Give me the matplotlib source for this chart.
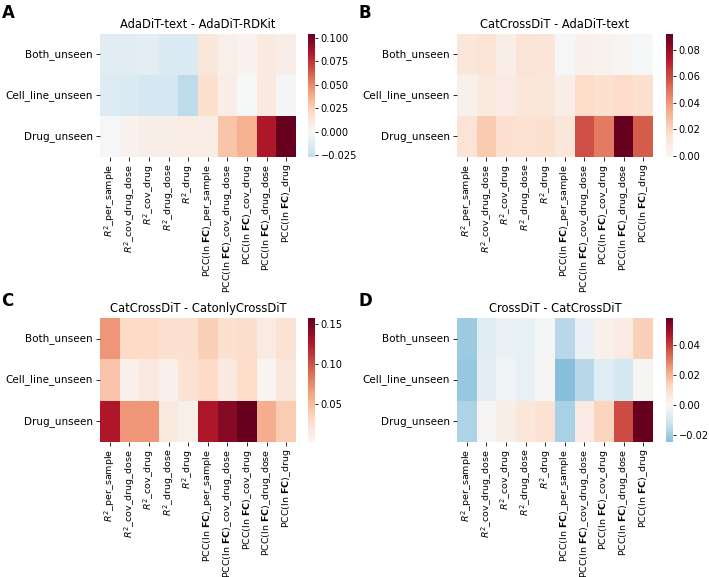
import numpy as np
import pandas as pd
import matplotlib
matplotlib.use("Agg")
import matplotlib.pyplot as plt
from matplotlib.ticker import MultipleLocator
import seaborn as sns

# Row / column labels
rows = ["Both_unseen", "Cell_line_unseen", "Drug_unseen"]
cols = [
    r"$R^2$_per_sample", r"$R^2$_cov_drug_dose", r"$R^2$_cov_drug",
    r"$R^2$_drug_dose", r"$R^2$_drug",
    r"PCC(ln $\mathbf{FC}$)_per_sample", r"PCC(ln $\mathbf{FC}$)_cov_drug_dose",
    r"PCC(ln $\mathbf{FC}$)_cov_drug", r"PCC(ln $\mathbf{FC}$)_drug_dose",
    r"PCC(ln $\mathbf{FC}$)_drug",
]

# Differences (one list per row)
a_both = [-0.012, -0.012, -0.011, -0.015, -0.016, 0.012, 0.006, 0.003, 0.010, 0.007]
a_cell = [-0.014, -0.016, -0.018, -0.018, -0.027, 0.017, 0.007, 0.000, 0.010, -0.002]
a_drug = [-0.001, 0.005, 0.007, 0.007, 0.008, 0.008, 0.030, 0.037, 0.084, 0.104]

b_both = [0.011, 0.013, 0.006, 0.013, 0.012, -0.001, 0.005, 0.003, 0.002, -0.001]
b_cell = [0.005, 0.009, 0.008, 0.011, 0.011, 0.006, 0.018, 0.015, 0.018, 0.015]
b_drug = [0.013, 0.024, 0.015, 0.014, 0.015, 0.011, 0.059, 0.048, 0.092, 0.056]

c_both = [0.070, 0.032, 0.031, 0.026, 0.026, 0.038, 0.026, 0.028, 0.014, 0.024]
c_cell = [0.045, 0.009, 0.016, 0.008, 0.024, 0.032, 0.016, 0.030, 0.003, 0.018]
c_drug = [0.128, 0.070, 0.070, 0.016, 0.010, 0.128, 0.143, 0.158, 0.058, 0.040]

d_both = [-0.021, -0.007, -0.004, -0.005, -0.001, -0.016, -0.004, 0.003, 0.005, 0.014]
d_cell = [-0.022, -0.006, -0.002, -0.005, 0.001, -0.025, -0.016, -0.007, -0.010, 0.001]
d_drug = [-0.018, 0.001, 0.004, 0.007, 0.009, -0.019, 0.005, 0.013, 0.038, 0.0585]

titles = ["AdaDiT-text - AdaDiT-RDKit", "CatCrossDiT - AdaDiT-text",
          "CatCrossDiT - CatonlyCrossDiT", "CrossDiT - CatCrossDiT"]
letters = ["A", "B", "C", "D"]
cbar_steps = [0.025, 0.02, 0.05, 0.02]
panels = [
    (a_both, a_cell, a_drug),
    (b_both, b_cell, b_drug),
    (c_both, c_cell, c_drug),
    (d_both, d_cell, d_drug),
]

W, H = 709, 577
fig = plt.figure(figsize=(W / 100, H / 100), dpi=100)

# pixel boxes: (heatmap left, top, right, bottom), colorbar left
boxes = [
    (100, 34, 296, 157, 308),
    (457, 34, 653, 157, 666),
    (100, 318, 296, 442, 308),
    (457, 318, 653, 442, 666),
]
letter_pos = [(2, 4), (359, 4), (1, 292), (359, 292)]


def px_rect(l, t, r, b):
    return [l / W, 1 - b / H, (r - l) / W, (b - t) / H]


for i, (vals, (l, t, r, b, cl)) in enumerate(zip(panels, boxes)):
    df = pd.DataFrame(np.array(vals), index=rows, columns=cols)
    ax = fig.add_axes(px_rect(l, t, r, b))
    cax = fig.add_axes(px_rect(cl, t, cl + 7, b))
    sns.heatmap(df, ax=ax, cbar_ax=cax, cmap="RdBu_r", center=0)
    ax.set_title(titles[i], fontsize=8.3, pad=4)
    ax.tick_params(axis="y", labelsize=7.5, length=3, width=0.6, pad=2)
    ax.tick_params(axis="x", labelsize=6.8, length=3, width=0.6, pad=2)
    ax.set_yticklabels(rows, rotation=0)
    ax.set_xticklabels(cols, rotation=90)
    cax.yaxis.set_major_locator(MultipleLocator(cbar_steps[i]))
    cax.tick_params(labelsize=7.1, length=2.5, width=0.6, pad=1.5)
    fig.text(letter_pos[i][0] / W, 1 - letter_pos[i][1] / H, letters[i],
             fontsize=12, fontweight="bold", va="top", ha="left")

fig.savefig("out.png", dpi=100)
